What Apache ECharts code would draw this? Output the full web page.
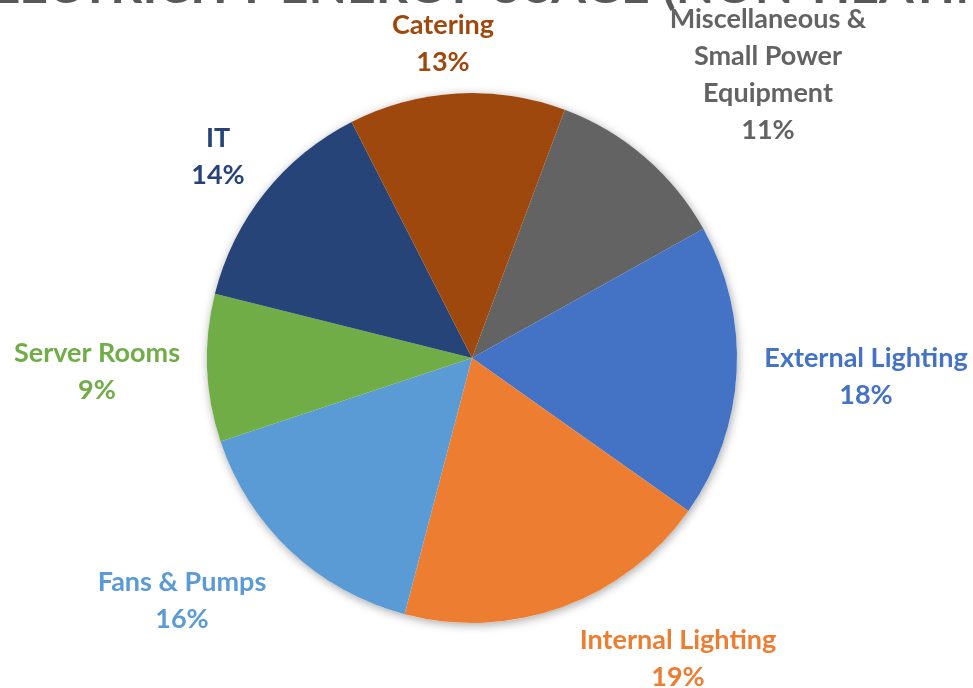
<!DOCTYPE html>
<html>
<head>
<meta charset="utf-8">
<script src="https://cdn.jsdelivr.net/npm/echarts@6/dist/echarts.min.js"></script>
<style>html,body{margin:0;padding:0;background:#fff;}#c{width:973px;height:688px;}</style>
</head>
<body>
<div id="c"></div>
<script>
const categories = ['Miscellaneous &\nSmall Power\nEquipment', 'External Lighting', 'Internal Lighting', 'Fans & Pumps', 'Server Rooms', 'IT', 'Catering'];
const values = [11.2, 17.9, 19.3, 15.8, 9.0, 13.6, 13.2];
const sliceColors = ['#636363', '#4472C4', '#ED7D31', '#5B9BD5', '#70AD47', '#264478', '#9E480E'];
const labelColors = ['#636363', '#4472C4', '#ED7D31', '#5B9BD5', '#70AD47', '#264478', '#9E480E'];
const titleMain = 'TYPICAL OFFICE USE ELECTRICITY ENERGY USAGE ';
const titleTail = '(NON-HEATING)';

// label anchor positions (layout only): centre of first text line
const labelAnchors = [[768, 19], [866, 358], [678, 640], [182, 582], [97, 353], [218, 138], [443, 25]];

const chart = echarts.init(document.getElementById('c'));
const center = [472, 358];
const radius = 265;
const LH = 37;
const titleFont = 'bold 50px Lato';

chart.setOption({
  backgroundColor: '#fff',
  animation: false,
  graphic: [
    { type: 'text', x: 662, y: -38, z: 0,
      style: { text: titleMain, font: titleFont, fill: '#595959', align: 'right', verticalAlign: 'top' } },
    { type: 'text', x: 662, y: -38, z: 0,
      style: { text: titleTail, font: titleFont, fill: '#595959', align: 'left', verticalAlign: 'top' } }
  ],
  series: [
    {
      type: 'pie', silent: true, center: center, radius: radius,
      data: [{ value: 1, itemStyle: { color: '#fff', shadowBlur: 10, shadowColor: 'rgba(0,0,0,0.35)', shadowOffsetX: 1, shadowOffsetY: 2 } }],
      label: { show: false }, labelLine: { show: false }, z: 1
    },
    {
      type: 'pie', center: center, radius: radius, startAngle: 69.5, clockwise: true,
      percentPrecision: 0, z: 2,
      data: categories.map((c, i) => ({
        name: c, value: values[i],
        itemStyle: { color: sliceColors[i] },
        label: { color: labelColors[i] }
      })),
      itemStyle: { borderWidth: 0 },
      label: {
        show: true, position: 'outside', formatter: '{b}\n{d}%',
        fontFamily: 'Lato', fontWeight: 'bold', fontSize: 27, lineHeight: LH,
        align: 'center', verticalAlign: 'top', overflow: 'none', width: 400
      },
      labelLine: { show: false },
      labelLayout: function (p) {
        const a = labelAnchors[p.dataIndex];
        return { x: a[0], y: a[1] - LH / 2, align: 'center', verticalAlign: 'top' };
      }
    }
  ]
});
</script>
</body>
</html>
